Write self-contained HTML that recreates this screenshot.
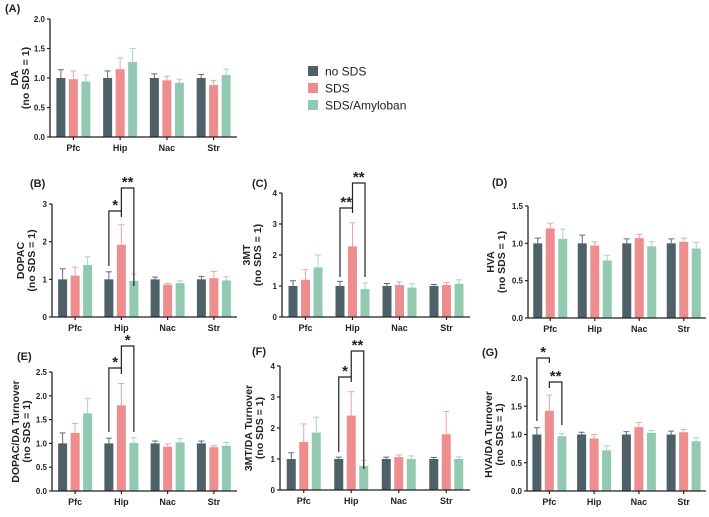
<!DOCTYPE html>
<html><head><meta charset="utf-8">
<style>
html,body{margin:0;padding:0;background:#fff;}
svg{display:block;font-family:"Liberation Sans",Arial,sans-serif;}
</style></head>
<body>
<svg id="fig" width="709" height="517" viewBox="0 0 709 517">
  <g>
    <rect x="308" y="66" width="10" height="10" fill="#4f6168"/>
    <text x="325" y="75.5" font-size="12" fill="#222">no SDS</text>
    <rect x="308" y="83" width="10" height="10" fill="#ee8d8d"/>
    <text x="325" y="92.5" font-size="12" fill="#222">SDS</text>
    <rect x="308" y="100" width="10" height="10" fill="#92c9b1"/>
    <text x="325" y="109.5" font-size="12" fill="#222">SDS/Amyloban</text>
  </g>
</svg>
<script>
const categories = ["Pfc","Hip","Nac","Str"];
const seriesNames = ["no SDS","SDS","SDS/Amyloban"];

const daNoSds = [1,1,1,1];           const daNoSdsErr = [0.14,0.12,0.07,0.06];
const daSds = [0.98,1.15,0.96,0.88]; const daSdsErr = [0.14,0.19,0.07,0.08];
const daAmy = [0.94,1.27,0.92,1.05]; const daAmyErr = [0.11,0.23,0.06,0.10];
const daTicks = ["0.0","0.5","1.0","1.5","2.0"];

const dopacNoSds = [1,1,1,1];            const dopacNoSdsErr = [0.28,0.20,0.06,0.08];
const dopacSds = [1.10,1.92,0.86,1.03];  const dopacSdsErr = [0.22,0.53,0.03,0.18];
const dopacAmy = [1.38,0.96,0.90,0.97];  const dopacAmyErr = [0.22,0.18,0.06,0.10];
const dopacTicks = ["0","1","2","3"];

const mtNoSds = [1,1,1,1];             const mtNoSdsErr = [0.17,0.15,0.08,0.05];
const mtSds = [1.20,2.28,1.03,1.03];   const mtSdsErr = [0.33,0.76,0.10,0.08];
const mtAmy = [1.60,0.90,0.95,1.07];   const mtAmyErr = [0.40,0.20,0.12,0.13];
const mtTicks = ["0","1","2","3","4"];

const hvaNoSds = [1,1,1,1];            const hvaNoSdsErr = [0.07,0.11,0.06,0.06];
const hvaSds = [1.20,0.97,1.07,1.02];  const hvaSdsErr = [0.07,0.05,0.05,0.05];
const hvaAmy = [1.06,0.77,0.96,0.93];  const hvaAmyErr = [0.13,0.07,0.06,0.08];
const hvaTicks = ["0.0","0.5","1.0","1.5"];

const dtoNoSds = [1,1,1,1];            const dtoNoSdsErr = [0.22,0.11,0.05,0.05];
const dtoSds = [1.22,1.80,0.93,0.92];  const dtoSdsErr = [0.20,0.46,0.06,0.03];
const dtoAmy = [1.63,1.01,1.02,0.95];  const dtoAmyErr = [0.31,0.11,0.08,0.07];
const dtoTicks = ["0.0","0.5","1.0","1.5","2.0","2.5"];

const mtoNoSds = [1,1,1,1];            const mtoNoSdsErr = [0.20,0.06,0.06,0.05];
const mtoSds = [1.55,2.40,1.06,1.80];  const mtoSdsErr = [0.58,0.77,0.07,0.73];
const mtoAmy = [1.85,0.78,1.00,1.00];  const mtoAmyErr = [0.50,0.18,0.10,0.07];
const mtoTicks = ["0","1","2","3","4"];

const htoNoSds = [1,1,1,1];            const htoNoSdsErr = [0.12,0.04,0.05,0.06];
const htoSds = [1.42,0.93,1.13,1.04];  const htoSdsErr = [0.28,0.07,0.08,0.05];
const htoAmy = [0.97,0.72,1.03,0.88];  const htoAmyErr = [0.05,0.08,0.04,0.06];
const htoTicks = ["0.0","0.5","1.0","1.5","2.0"];

const colors = ["#4f6168","#ee8d8d","#92c9b1"];
const errColors = ["#5d6f75","#f2a3a3","#a8d5c1"];
const NS = "http://www.w3.org/2000/svg";
const svg = document.getElementById("fig");

function mk(tag, attrs, parent){
  const e = document.createElementNS(NS, tag);
  for (const k in attrs) e.setAttribute(k, attrs[k]);
  (parent||svg).appendChild(e);
  return e;
}

const panels = [
  {id:"a", label:"(A)", lx:5, ly:12, x0:50, x1:237, yTop:19, yBot:137, max:2, ticks:daTicks,
   t1:"DA", t2:"(no SDS = 1)", tx:18,
   s:[daNoSds,daSds,daAmy], e:[daNoSdsErr,daSdsErr,daAmyErr], br:[]},
  {id:"b", label:"(B)", lx:30, ly:187, x0:52, x1:237, yTop:204, yBot:317, max:3, ticks:dopacTicks,
   t1:"DOPAC", t2:"(no SDS = 1)", tx:24,
   s:[dopacNoSds,dopacSds,dopacAmy], e:[dopacNoSdsErr,dopacSdsErr,dopacAmyErr],
   br:[{g:1,a:0,b:1,top:211,l:266,r:217,t:"*"},{g:1,a:1,b:2,top:188,l:211,r:286,t:"**"}]},
  {id:"c", label:"(C)", lx:252, ly:187, x0:282, x1:470, yTop:193, yBot:317, max:4, ticks:mtTicks,
   t1:"3MT", t2:"(no SDS = 1)", tx:250,
   s:[mtNoSds,mtSds,mtAmy], e:[mtNoSdsErr,mtSdsErr,mtAmyErr],
   br:[{g:1,a:0,b:1,top:208,l:277,r:213,t:"**"},{g:1,a:1,b:2,top:183,l:208,r:277,t:"**"}]},
  {id:"d", label:"(D)", lx:492, ly:186, x0:528, x1:706, yTop:206, yBot:318, max:1.5, ticks:hvaTicks,
   t1:"HVA", t2:"(no SDS = 1)", tx:494,
   s:[hvaNoSds,hvaSds,hvaAmy], e:[hvaNoSdsErr,hvaSdsErr,hvaAmyErr], br:[]},
  {id:"e", label:"(E)", lx:17, ly:360, x0:52, x1:237, yTop:372, yBot:491, max:2.5, ticks:dtoTicks,
   t1:"DOPAC/DA Turnover", t2:"(no SDS = 1)", tx:19,
   s:[dtoNoSds,dtoSds,dtoAmy], e:[dtoNoSdsErr,dtoSdsErr,dtoAmyErr],
   br:[{g:1,a:0,b:1,top:368,l:432,r:374,t:"*"},{g:1,a:1,b:2,top:346,l:368,r:432,t:"*"}]},
  {id:"f", label:"(F)", lx:252, ly:355, x0:280, x1:470, yTop:366, yBot:490, max:4, ticks:mtoTicks,
   t1:"3MT/DA Turnover", t2:"(no SDS = 1)", tx:252,
   s:[mtoNoSds,mtoSds,mtoAmy], e:[mtoNoSdsErr,mtoSdsErr,mtoAmyErr],
   br:[{g:1,a:0,b:1,top:377,l:452,r:382,t:"*"},{g:1,a:1,b:2,top:351,l:377,r:469,t:"**"}]},
  {id:"g", label:"(G)", lx:482, ly:356, x0:527, x1:706, yTop:378, yBot:491, max:2, ticks:htoTicks,
   t1:"HVA/DA Turnover", t2:"(no SDS = 1)", tx:492,
   s:[htoNoSds,htoSds,htoAmy], e:[htoNoSdsErr,htoSdsErr,htoAmyErr],
   br:[{g:0,a:0,b:1,top:358,l:421,r:363,t:"*"},{g:0,a:1,b:2,top:382,l:388,r:425,t:"**"}]}
];

panels.forEach(p => {
  const g = mk("g", {});
  
  
  const W = p.x1 - p.x0;
  const gw = W / categories.length;
  const xC = i => p.x0 + (i + 0.5) * gw;
  const y = v => p.yBot - v / p.max * (p.yBot - p.yTop);
  const bw = 9, off = 12.5;
  const bx = (gi, si) => xC(gi) + (si - 1) * off;

  const pl = mk("text", {x:p.lx, y:p.ly, "font-size":11, "font-weight":"bold", fill:"#222"}, g);
  pl.textContent = p.label;
  
  

  p.s.forEach((ser, si) => {
    ser.forEach((v, gi) => {
      const cx = bx(gi, si);
      const top = y(v + p.e[si][gi]);
      const el = mk("line", {x1:cx, x2:cx, y1:y(v), y2:top, stroke:errColors[si], "stroke-width":1}, g);
      
      
      const cap = mk("line", {x1:cx-3, x2:cx+3, y1:top, y2:top, stroke:errColors[si], "stroke-width":1}, g);
      
      
      const r = mk("rect", {x:cx-bw/2, y:y(v), width:bw, height:p.yBot - y(v), fill:colors[si]}, g);
      
      
    });
  });

  const ya = mk("line", {x1:p.x0, x2:p.x0, y1:p.yTop, y2:p.yBot, stroke:"#222", "stroke-width":1.3}, g);
  
  
  const xa = mk("line", {x1:p.x0, x2:p.x1, y1:p.yBot, y2:p.yBot, stroke:"#222", "stroke-width":1.3}, g);
  
  

  p.ticks.forEach(t => {
    const v = parseFloat(t);
    const yy = y(v);
    mk("line", {x1:p.x0-3, x2:p.x0, y1:yy, y2:yy, stroke:"#222", "stroke-width":1.2}, g);
    const tl = mk("text", {x:p.x0-5, y:yy+3, "font-size":8, "font-weight":"bold", "text-anchor":"end", fill:"#222"}, g);
    tl.textContent = t;
    
    
  });
  categories.forEach((c, i) => {
    mk("line", {x1:xC(i), x2:xC(i), y1:p.yBot, y2:p.yBot+3, stroke:"#222", "stroke-width":1.2}, g);
    const tl = mk("text", {x:xC(i), y:p.yBot+14, "font-size":9, "font-weight":"bold", "text-anchor":"middle", fill:"#222"}, g);
    tl.textContent = c;
    
    
  });

  const ym = (p.yTop + p.yBot) / 2;
  const tt = mk("text", {transform:`translate(${p.tx},${ym}) rotate(-90)`, "font-size":10.5, "font-weight":"bold", "text-anchor":"middle", fill:"#222"}, g);
  
  
  const s1 = mk("tspan", {x:0, y:0}, tt); s1.textContent = p.t1;
  const s2 = mk("tspan", {x:0, y:11}, tt); s2.textContent = p.t2;

  p.br.forEach(b => {
    const xa2 = bx(b.g, b.a), xb2 = bx(b.g, b.b);
    const path = mk("path", {d:`M${xa2},${b.l} L${xa2},${b.top} L${xb2},${b.top} L${xb2},${b.r}`, fill:"none", stroke:"#222", "stroke-width":1.2}, g);
    
    
    const st = mk("text", {x:(xa2+xb2)/2, y:b.top-1, "font-size":15, "font-weight":"bold", "text-anchor":"middle", fill:"#222"}, g);
    st.textContent = b.t;
    
    
  });
});
</script>
</body></html>
